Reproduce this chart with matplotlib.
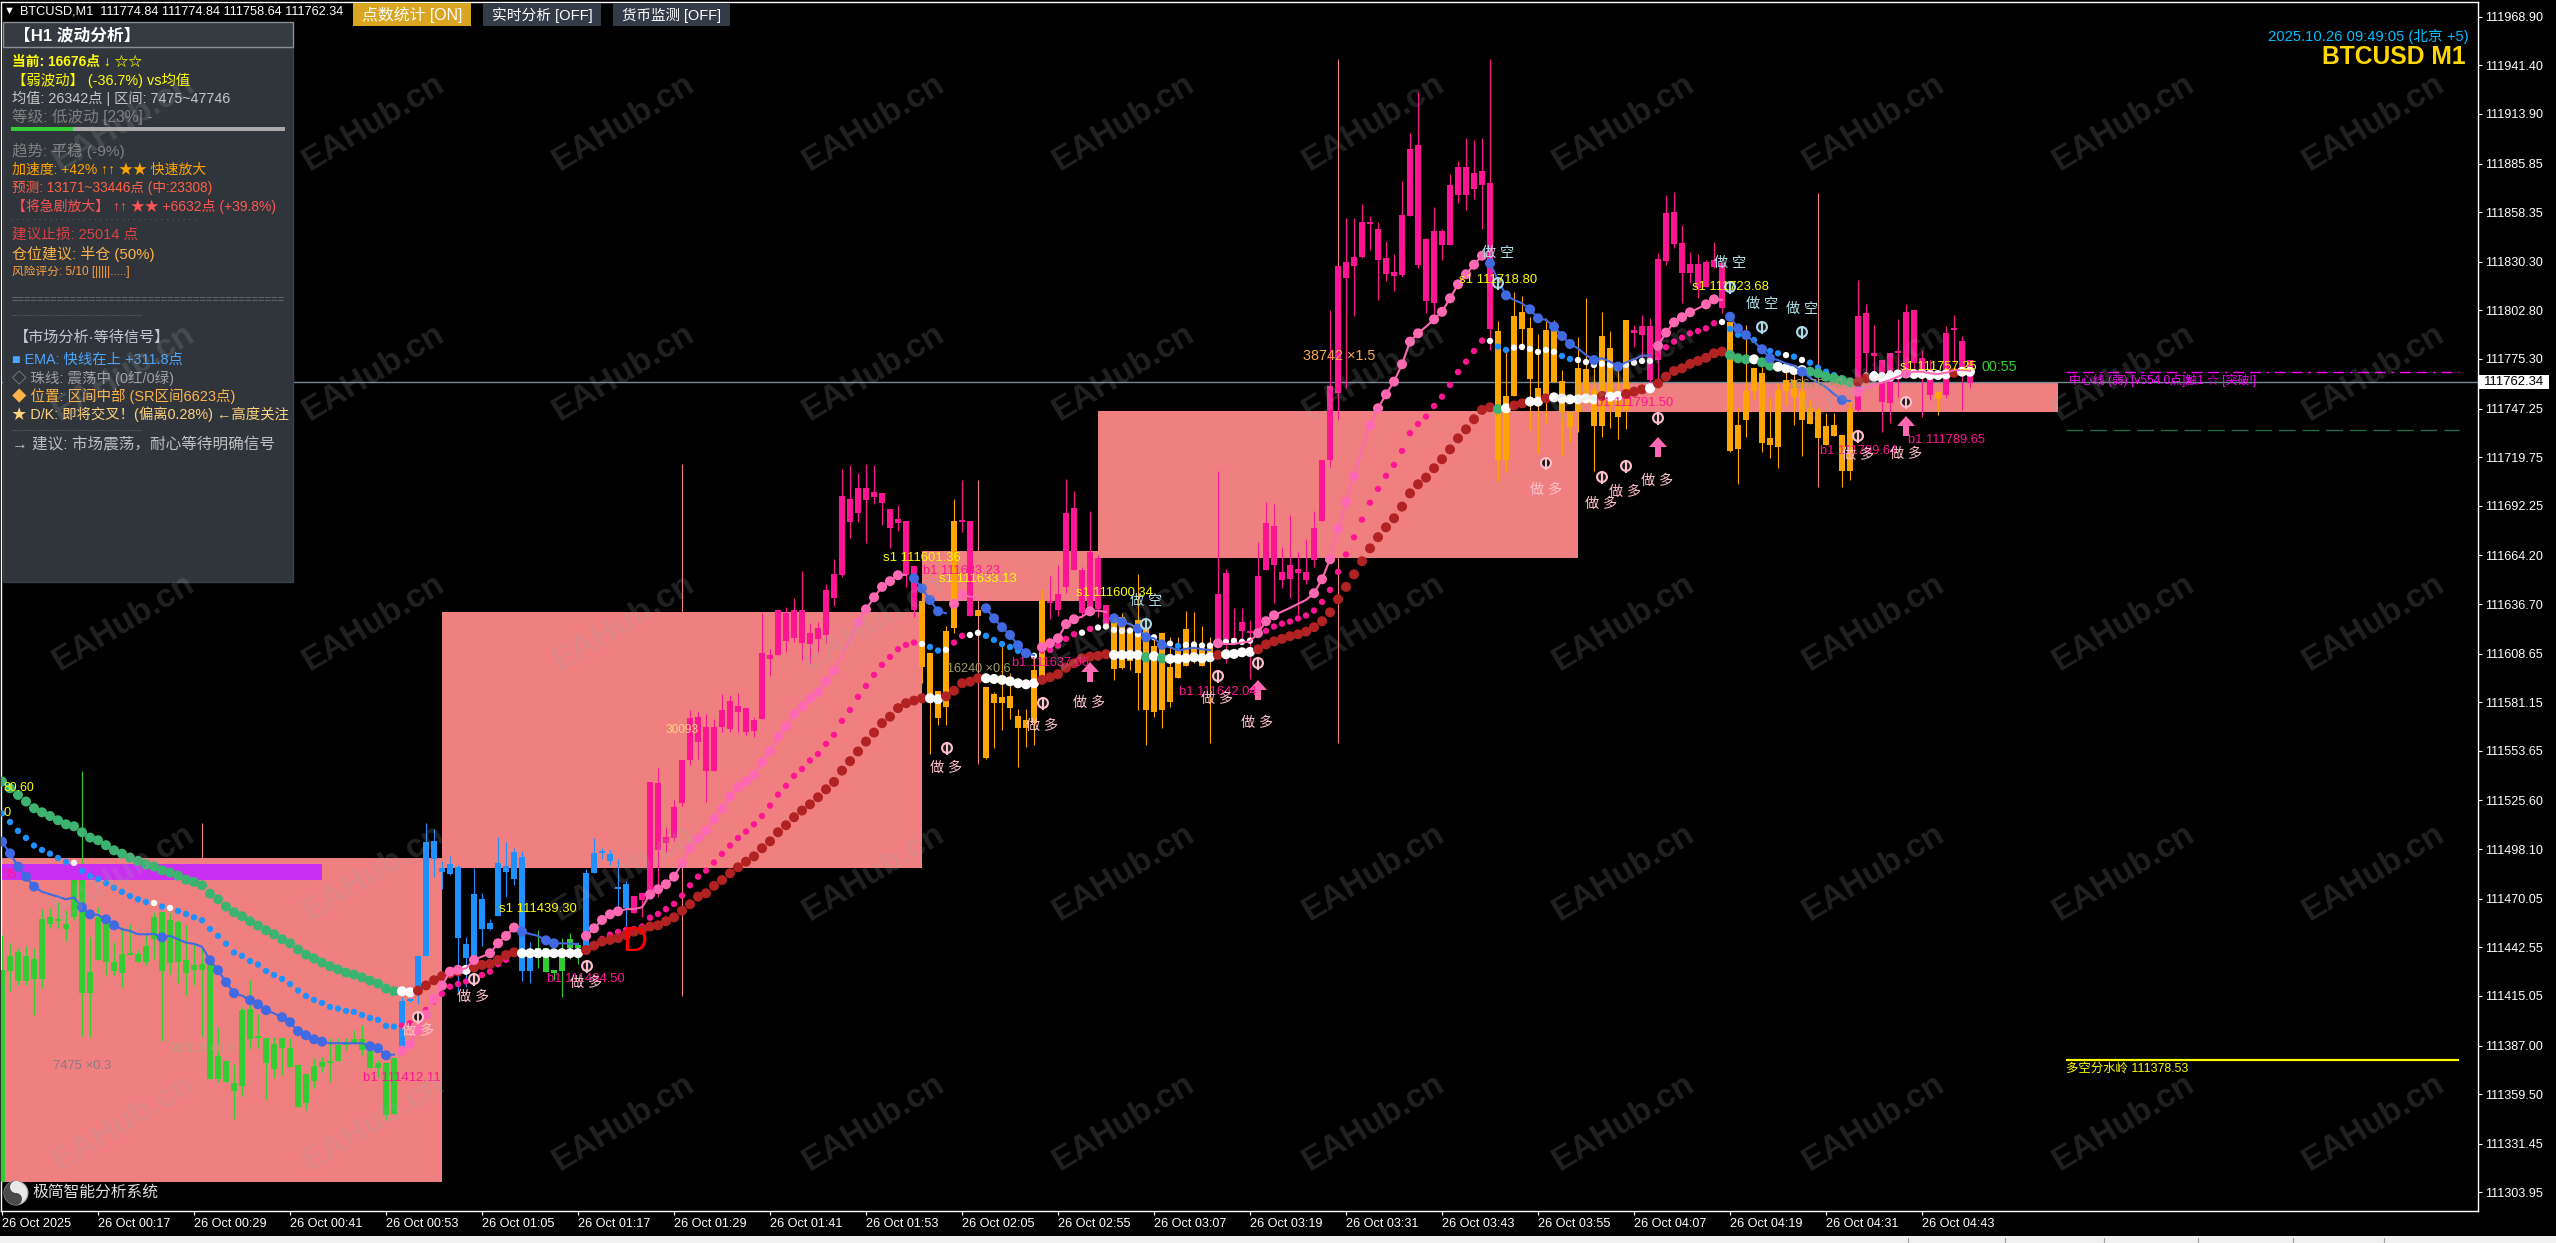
import numpy as np
import matplotlib
matplotlib.use('Agg')
import matplotlib.pyplot as plt
from matplotlib.patches import Rectangle, Circle, Wedge, Polygon

plt.rcParams['font.family'] = ['Liberation Sans', 'Noto Sans CJK SC', 'DejaVu Sans']

W, H = 2556, 1243
PX_PER_BAR = 8
BASE = 111000  # the price lists below hold price minus this

# candles, one value per M1 bar
high = [449.5,444.8,442,443,442,464,464.6,468.4,463.7,489.1,
 542.3,448.2,465.6,459.9,445.8,454.3,455.8,441,449.5,462.7,
 462.5,461.8,458,455,444.8,442.9,435,397.2,378.3,376.4,
 409,424,405,391.3,392,391,391,376,371,379.8,
 380.7,391,391,391,395.8,398.4,388,378.7,376.9,380,
 414.7,414,437.9,512.7,509.3,491.4,494.2,489.1,448.2,487.6,
 473.1,458.4,504.8,502.1,498.9,497,445.4,452.4,442,429.8,
 448,450.9,445.8,486.7,504.2,498.9,497.6,492.3,480.3,471.6,
 473.1,536.1,543.8,510.8,525.9,548.5,576.8,575.9,574.6,571.5,
 585.9,585.3,586.2,578.7,572.7,631.5,611.1,633.4,635.2,640,
 655.4,626.2,626.4,647.9,662,712.9,715.4,710.7,715.9,715.4,
 699.3,690.3,692.7,683.7,658.2,
 648.4,608.9,587.6,624,696,
 706.9,683.7,633.4,590,587,614.5,597.5,577.2,577.2,607,
 645,652.6,658.8,707.3,700.7,657.9,689.4,664.5,636.2,631.5,
 631.5,622,653.5,624,618.3,620.2,618,618,633,632.4,
 624,618.3,712,656.4,634.3,634.3,627.7,671.6,694.2,693.1,
 668.8,687,666.4,673.5,689.4,718.2,803,827.9,854.9,854.9,
 863,856.2,853,842,834.7,876,902.9,926.5,844,861,
 848.6,879.7,887.3,900,899,900,945,796.8,779.5,813.4,
 811,798.9,789.3,798.3,797.4,769,745.5,787.9,809.6,770,
 801.7,791.1,770,797.4,794.5,800,798.3,835.4,868,869.9,
 851,836,834.5,831.3,841.7,829.4,796.4,747.4,794.5,770,
 770.9,753,761.5,768,768,771,752,748,744.6,744.6,
 732.3,752,820,806.4,794.5,774.7,778.5,797.7,806.4,803,
 780.4,774.7,756.8,794.1,800.2,788.3,774.7]
body_top = [429.8,437.7,439.8,437.7,435.8,458.4,459.5,457.7,455.8,481.2,
 481.2,428.4,459.5,458,434.3,438.8,438.8,438.8,443.5,459.5,
 462.5,458,456.7,435.4,432.4,433,432.6,381,378.3,366,
 407,407.5,391.5,391.3,388,391,385.8,376,371,375.5,
 377.6,377.3,387.1,388,390.4,390.4,383.9,377.3,376.9,380,
 412,412.8,437.9,502,502.7,487.4,489.7,487.8,444.5,472.7,
 469.9,456.1,490.1,488.6,496.5,493.5,439.2,442,442,429.8,
 441,447.3,443.5,484.8,495.7,496.1,495.4,476.5,478.4,471.6,
 473.1,536.1,535.3,505.2,521.8,548.5,572,572.7,567,567,
 576.8,581.9,579,577.8,571.2,608.9,607.9,633.4,631.9,633.4,
 633.4,620.2,623,644.7,653.7,697.8,695.9,702.2,702.2,700.1,
 699.3,690.3,684.6,683.7,658.2,
 638.5,608.9,587.6,621.5,683.7,
 683.7,683.7,633.4,590,585.9,584,584.7,573.4,571.2,599.4,
 639,638,642.4,688,690.9,656,666.4,662.9,636.2,626.4,
 629.6,622,627.7,624,613,620.2,600.8,610.7,622.6,613.6,
 611.7,612.6,642.4,654.1,617.3,626.8,621,652.6,682.4,680.9,
 655,658.8,656.5,655,679.7,718.2,760,827.9,830,832.8,
 852.8,852.8,848.8,832.2,824.3,856.7,894,896.3,843.2,847.7,
 847.7,873.7,883.9,883.9,880.3,881.6,874.6,791.1,754.4,799.6,
 801.9,792.6,758.7,791.7,791.7,763,745.5,770,769.5,757.8,
 788.3,781.3,755.9,797.4,791.7,794,794,831.9,857.7,858.2,
 840.7,829,829,830.3,831.3,829.4,796.4,738,757.4,770,
 767.2,730.4,757.8,763.4,763.4,757.4,747.4,746.4,737.4,738,
 732.3,746.8,799.6,801.1,778.5,774.7,778.5,779.8,802,803,
 775.7,769,756.8,789.8,792,785.3,774.7]
body_bot = [310,429.4,423.6,423.4,424.6,424.6,455.8,457.3,453,459.5,
 416.6,416.6,435.4,434.5,428.9,428.2,438.4,434.1,434.5,447.5,
 428.9,433.9,434.5,427.9,429.8,429.8,368,368,366.6,361.3,
 364.3,390.5,391,377.3,373.8,385.6,375,352.3,354.7,367,
 375,376.9,378.3,387.1,387.7,384.7,374,374,347.6,348.3,
 386,412,419.4,437.9,492.5,485.4,483.9,448,436.7,437.3,
 452.9,452.9,460.3,485.2,481.2,429.4,429.4,436.4,428.4,428.2,
 428.9,442,442.4,442,484.8,495.7,491.4,475.4,464.6,462.2,
 469.3,474,497.6,501.8,504.2,524,548.5,558.9,542,542.5,
 567,566,575.9,564.6,565.1,571.7,605.7,607.9,615.8,617.3,
 614.9,614.1,617,619.2,640.3,653.2,683.3,688.4,695.6,697.5,
 694.1,679.9,682.8,653.2,633.4,
 601,584.4,572.1,578.7,623,
 683.3,630.2,630.2,549.5,581,581,577.8,566.8,566.3,569.3,
 596,637,633.4,646.6,656,631.9,633.7,633.9,624.9,600,
 600.4,604.7,597.9,576.8,575.7,576.8,581.1,595.1,601.7,607.9,
 601.7,608.9,615.5,615.5,614.5,621.7,620.5,619.2,656,658.8,
 650.3,650.9,654.1,650.3,661.6,683.7,718.2,756.3,821.3,828.1,
 832.8,851.8,831.3,823.4,822.2,822.8,856.2,828.5,808.1,806.8,
 839.8,839.8,868,868,871.4,873.7,792.3,718.2,718.2,754.4,
 792.5,764,754,755,762,745.5,737,745.5,750.2,737.4,
 737.4,749.3,742.7,746.5,789.8,788.9,763.4,774.7,830.7,840.3,
 824.1,824.1,815.3,816.2,827.5,804,723.5,724.4,740.8,757.4,
 728,726.7,725.7,757.4,754,740.8,738.5,730.8,726.6,732,
 712.1,712.1,746.4,778.9,777,751.2,750.2,778.5,765.3,772.8,
 767.2,754.9,752.5,754.9,791.6,771,761.9]
low = [310,418,421.3,421.3,404.3,419.4,453.3,453.3,446.3,458,
 392.6,391.7,435.4,426.6,427,420.3,438.2,434.1,432.6,435.8,
 389.8,427.5,422.2,415.8,421.3,392,368,366.6,366.6,345.3,
 358.2,385.3,385.6,357,368.7,370.4,375,352.3,350.8,363.2,
 371.9,366.6,378.3,384.4,387.7,381.5,374,369.2,344.8,348.3,
 386,411.6,410.5,437.9,482.5,475.6,483.5,417.5,420.3,432.6,
 443.5,452.4,460.3,471.2,477.8,423.5,422.6,430.7,428.4,424,
 414.7,435.8,433,441,484.4,492.3,489.1,465.6,453.3,462.2,
 459.9,471,471.2,496.7,502.4,522.2,545.7,549.1,525,542.5,
 564.6,564.6,564.6,562.7,561.7,571.7,596,607.9,609.8,615.5,
 605.1,603.6,609.8,614.9,635.8,652.2,674.3,683.3,671,693.1,
 681.4,668.2,678.2,646.6,629.6,
 591.9,551.9,568.3,568.3,620.5,
 677.7,630.2,630.2,548.9,555.5,565.5,571.5,544.8,556.1,557,
 596,628.3,630.2,643.2,656,628.7,630.5,629.6,624,593.8,
 600,599.4,576.8,557,573,566.4,578.7,595.1,601.7,603.2,
 601.7,558,615,603.2,614,614.5,594.5,618.3,656,637.1,
 645.6,640.3,630.5,648,657.9,683.7,714.4,740.8,759,799.6,
 832.2,837,808.7,819.6,814,821.9,856.2,827,801.5,800.2,
 831.3,839.8,863.3,859.6,865.8,848.8,780.4,706.5,711.6,754.4,
 783.8,735.2,722,739.3,762,720.6,728.6,734.2,750.2,712.2,
 731.4,736.1,730,735.5,782,775.7,761.5,762.5,828.5,837.9,
 806.8,818,809.6,816.2,827,801.1,722.9,704.6,731.4,752.7,
 722.9,719.5,713.9,749.3,738,720.4,738.5,730,726.6,732,
 703.1,706.9,745.5,765.3,765,734.2,739.3,754,765.3,766.2,
 742.3,752,743.6,753,772.8,746.5,758.7]
candle_runs = [('g',50),('b',17),('g',6),('b',6),('p',36),('o',5),('p',2),('o',9),('p',8),
               ('o',13),('p',35),('o',17),('p',12),('o',16),('p',10),('o',1),('p',4)]

# dotted averages
slow_line = [536.3,532.5,528.7,525,521.2,518.9,516.8,514.4,512.1,511,
 507.6,504.6,503.1,500.3,497.4,495.5,493.3,491.4,489.5,488.2,
 486.1,484.8,483.1,480.8,479.5,477.6,472.9,469.7,465.6,462.4,
 460.1,457.3,454.8,452.2,449.9,447.1,444.8,441.3,438.4,436.2,
 433.9,431.8,430.1,428.2,427.1,425.6,423.7,422,419.2,417.7,
 417.7,417.1,418,421,423.9,426.2,427.7,428.8,429.8,431.1,
 432.6,433.1,435.4,438.2,439.7,439.2,439.2,439.2,439.2,439.2,
 439.2,439.2,439.2,441,443.5,445.8,446.7,447.7,449.5,451.4,
 452.4,454.3,455,457.3,459.5,463.3,466.9,471.2,473.1,477.3,
 480.6,484.4,487.8,491,494,498.6,502.5,507.6,511.6,516.1,
 519.9,523.4,527.4,531.9,536.1,542.5,547.8,553.3,558.9,564,
 569.3,573,577.8,580.6,582.1,583.4,583.4,582.9,584.5,587.7,
 591.9,592.8,594.7,594.7,594.3,593.8,593,591.9,591.3,591.9,
 593.8,595.3,597,600.6,603.2,606,607,607.4,608.3,607.9,
 607.9,607.9,607.9,606.6,607.2,606,605.7,605.7,606,606.6,
 606,606.6,607.9,608.3,608.5,609.4,609.6,611.1,613.9,615.6,
 617,618.5,619.6,621.1,623.6,627,632,639.4,646.4,653.5,
 660.9,668.2,674.5,680.1,685.2,691.8,699.3,704.4,708.2,713.5,
 718.6,724.2,730.4,735.5,741.2,746.5,748,747,747.4,749,
 750.2,751.2,751.2,753,753.6,752.9,752.5,752.5,753,752.5,
 754.4,754,754.4,755.5,756.8,758.1,758.7,761.5,765.3,768.5,
 770,772.5,774.2,776,778.5,779.5,777.6,775.7,775.1,775.1,
 773.4,771.5,770.9,770,769,769,768.1,767.2,765.3,764.4,
 763.4,762.1,762.5,764.4,765.3,764.7,765.3,766.6,767.2,766.8,
 766.8,766.2,766.2,766.6,767.5,768.1,768.1]
slow_runs = [('g',50),('w',2),('r',6),('w',1),('r',6),('w',8),('r',43),('w',2),('r',5),('w',7),
             ('r',9),('w',4),('g',1),('w',1),('g',1),('w',6),('r',1),('w',4),('r',30),('g',1),
             ('w',1),('r',2),('w',2),('r',1),('w',6),('r',1),('w',2),('r',3),('w',1),('r',9),
             ('g',3),('w',1),('g',2),('w',4),('g',6),('r',2),('w',10),('r',1),('w',2)]

nan = float('nan')
mid_line = [518.3,513.4,508.4,504.4,500.1,497.6,495.5,493.1,490.8,490.3,
 485.7,482.9,481.2,478.9,476.3,473.9,471.6,469.7,468.2,467.6,
 465.6,464.8,463.1,461.4,459.5,457.8,452.9,449,444.6,439.6,
 437.7,434.8,432.8,429.2,426.9,424.7,421.8,418.1,415,412.8,
 411.1,408.8,407.9,406.6,406,404.3,402.6,401.5,398.1,397.7,
 398.3,399.6,401.9,407.1,411.9,416.2,420.3,421.8,423.2,425,
 426.9,428.8,433,435.4,439.2,nan,nan,nan,nan,nan,
 nan,nan,nan,nan,443.9,447.3,449.7,451.2,452.4,452.9,
 454.3,459.3,461.4,464.1,467.1,471.8,477.6,482.5,485.9,490.5,
 495.4,500.1,504.4,508,512.1,516.8,522.7,528.9,533.9,539.5,
 543.4,548.2,551.9,557.6,562.7,570.6,576.8,584.2,590.4,596.6,
 602.3,606.8,611.1,613.6,614.9,614.1,612.4,610.4,610.8,614.9,
 618.7,619.2,620.4,618.7,616.4,614.1,612.4,610.2,608.9,607.4,
 610.4,610.8,613.2,617,619.6,620.5,622.6,623.4,624,622,
 621.5,621.7,619.6,618.3,617.9,614.9,614.3,613,613.6,613.8,
 613.2,613.2,614.5,615.3,615.8,615.3,616,620.2,621.5,624,
 625.6,626.8,628.5,630.2,633,637.9,644.7,654.9,664.7,674.4,
 684.4,694,701.8,709.2,715.4,723.3,733.3,738.5,742.7,748.7,
 754,760.6,767.9,773.8,779.8,785.7,785.5,782.3,780.4,781.7,
 782.1,781,779.3,780.4,779.3,777,775.3,774.7,773.6,771.9,
 772.5,771.9,771,771.9,773.2,774.2,774.2,777.6,781.9,785.1,
 787.4,789.8,791.1,792.6,795.5,796.2,792.3,789,789.4,786,
 781.3,779.8,778.5,777.5,776.6,774.7,773.2,770.4,768.1,766.2,
 763.4,762.8,760,765.9,766.8,766.2,767.2,767.2,nan,nan,
 nan,nan,nan,nan,nan,nan,nan]
mid_runs = [('b',9),('w',1),('b',9),('w',1),('b',1),('w',1),('b',28),('p',65),('w',1),('b',2),
            ('w',1),('p',2),('w',2),('b',6),('w',1),('p',5),('w',1),('p',1),('w',6),('b',1),
            ('w',1),('b',1),('w',1),('b',1),('w',9),('p',29),('w',1),('b',2),('w',6),('b',2),
            ('w',10),('p',8),('w',1),('b',7),('w',1),('b',1),('w',1),('b',7),('w',14)]

fast_line = [502.3,495.7,488.2,482.5,476.9,474,472.5,471.2,469.7,470.7,
 465.2,461.2,460.9,458.4,455,452.8,451.8,449.9,449.9,450.1,
 448.2,449,447.1,445.2,444.5,442.9,435.2,429.6,422.8,416.6,
 415.2,412.6,410.3,407,405.2,403,400.2,395.1,392.8,390.5,
 389.2,388.3,388.3,388.3,388.3,388.3,386.6,385.5,381.5,381.9,
 384.1,387.7,395.8,404.3,413.4,420.9,428.8,429.8,430.7,435.4,
 437.3,439.2,444.8,449,453.7,451.4,450.1,449,446.5,444.8,
 444.8,444.6,444.4,449,453.3,458,461.2,462.9,464.1,464.2,
 465.2,472.4,475.4,478.2,482.5,490.1,498.6,504.2,508.5,515,
 521,527.8,533.2,536.5,540,547.2,553.3,561.7,567.4,574.4,
 578.7,583.4,586.8,592.8,599,607.4,616.8,626.2,633.7,640.5,
 646.4,649.6,653,653.2,651.3,645.6,639,632.6,631.5,636.8,
 641.8,640.9,640,634.3,628.6,623.6,619.2,613.4,608.9,607.9,
 612.3,614.5,617.3,625.3,628.1,629.6,632.6,633,632.2,628.6,
 626.4,625.4,622.8,617.9,617.3,613.6,612.3,610.4,611.3,612,
 611.1,610.7,614.5,614.1,614.1,614.9,615.6,620.2,627,630.3,
 632.4,634.5,636.8,639,642.8,650.7,662,679.5,694.4,709,
 724,737.6,747.4,755.3,762.5,772.3,785.1,789.8,793.6,797.7,
 802,809.6,817.5,823.2,828.6,833.7,829.4,820,811.3,808.7,
 806.8,803.4,798.3,797.4,793.6,788.3,783.8,781.3,777.6,774.7,
 775.7,773.8,771,773.4,775.1,777.2,777.2,782.7,790.2,796,
 798.9,801.7,803.9,806.2,809,808.7,799.2,792.6,788.9,785.1,
 780.8,775.7,774.7,772.8,771.5,768.1,764.7,762.1,759.3,755.5,
 752.1,751.5,756.8,758.7,760.6,761.9,763.4,765.3,767.2,768.1,
 768.1,767.2,766.8,767.5,769,769,768.7]
fast_runs = [('b',50),('p',15),('b',8),('p',41),('b',5),('p',4),('b',7),('p',9),('b',13),
             ('p',34),('b',21),('p',9),('b',16),('p',15)]
fast_dots = [0,1,2,3,4,10,11,13,14,20,26,27,28,29,31,32,33,35,36,37,38,39,40,46,47,48,
             50,51,52,53,54,55,56,57,59,61,62,63,64,65,68,69,73,74,75,76,77,
             81,82,83,84,85,86,87,88,89,90,91,92,93,94,95,96,97,98,99,100,101,102,103,104,
             107,108,109,110,111,112,114,115,116,117,119,120,123,124,125,126,127,128,
             130,131,132,133,134,136,139,140,142,143,145,152,157,158,159,164,165,166,167,168,169,
             171,172,173,174,175,176,177,179,180,181,182,183,184,185,186,188,191,192,194,195,196,
             199,202,207,208,209,210,211,213,214,216,217,218,220,221,225,230,232,238]

# H1 candle bodies drawn as zones, and their wicks
zone_left = [0, 55, 115, 137, 197]
zone_right = [55, 115, 137, 197, 257]
zone_top = [493.0, 632.2, 666.7, 745.9, 761.7]
zone_bottom = [309.8, 487.4, 638.4, 662.7, 745.3]
h1_wick_bar = [25, 85, 122, 167, 227]
h1_wick_high = [512.9, 716, 707, 945, 869]
h1_wick_low = [493, 415, 546, 558, 703]

# horizontal levels
bid_price = 762.34
centre_level = 767.9
lower_level = 735.1
divide_level = 378.53

price_ticks = [111968.90,111941.40,111913.90,111885.85,111858.35,111830.30,111802.80,111775.30,
               111747.25,111719.75,111692.25,111664.20,111636.70,111608.65,111581.15,111553.65,
               111525.60,111498.10,111470.05,111442.55,111415.05,111387.00,111359.50,111331.45,111303.95]
time_labels = ['26 Oct 2025','26 Oct 00:17','26 Oct 00:29','26 Oct 00:41','26 Oct 00:53','26 Oct 01:05',
               '26 Oct 01:17','26 Oct 01:29','26 Oct 01:41','26 Oct 01:53','26 Oct 02:05','26 Oct 02:55',
               '26 Oct 03:07','26 Oct 03:19','26 Oct 03:31','26 Oct 03:43','26 Oct 03:55','26 Oct 04:07',
               '26 Oct 04:19','26 Oct 04:31','26 Oct 04:43']

CANDLE = {'g': '#32CD32', 'b': '#1E90FF', 'p': '#FF1493', 'o': '#FFA500'}
SLOW = {'g': '#3CB371', 'w': '#FFFFFF', 'r': '#B22222'}
MID = {'b': '#1E90FF', 'w': '#FFFFFF', 'p': '#FF1493'}
FAST = {'b': '#4169E1', 'p': '#FF69B4'}


def expand(runs, table):
    out = []
    for key, n in runs:
        out += [table[key]] * n
    return out


def to_price(values):
    return np.array(values, dtype=float) + BASE


bars = np.arange(len(high))
fig = plt.figure(figsize=(W / 100, H / 100), dpi=100, facecolor='black')
ax = fig.add_axes([1 / W, 1 - 1211 / H, 2477 / W, 1209 / H], facecolor='black')
ax.set_xlim(-0.125, 309.5)
ax.set_ylim(111293.4, 111977.2)

for s in ax.spines.values():
    s.set_color('white')
    s.set_linewidth(1.0)

ax.yaxis.tick_right()
ax.set_yticks(price_ticks)
ax.set_yticklabels(['%.2f' % p for p in price_ticks])
ax.set_xticks(np.arange(0, 12 * len(time_labels), 12))
ax.set_xticklabels(time_labels, ha='left')
ax.tick_params(colors='white', labelsize=9.1, length=3, width=0.8, pad=2)

# zones and H1 wicks
for l, r, t, b in zip(zone_left, zone_right, zone_top, zone_bottom):
    ax.add_patch(Rectangle((l, b + BASE), r - l, t - b, fc='#F08080', ec='none', zorder=1, antialiased=False))
ax.vlines(h1_wick_bar, to_price(h1_wick_low), to_price(h1_wick_high), color='#F08080', lw=0.8, zorder=2)
ax.add_patch(Rectangle((0, 480.6 + BASE), 40, 9.1, fc='#C82FF0', ec='none', zorder=4, antialiased=False))

# candles
cols = expand(candle_runs, CANDLE)
ax.vlines(bars, to_price(low), to_price(high), colors=cols, lw=0.8, zorder=3)
heights = np.maximum(np.array(body_top) - np.array(body_bot), 1.2)
ax.bar(bars, heights, bottom=to_price(body_bot), width=0.66, color=cols, linewidth=0, zorder=3, antialiased=False)

# dotted averages
ax.scatter(bars, to_price(mid_line), s=21, c=expand(mid_runs, MID), linewidths=0, zorder=5)
ax.scatter(bars, to_price(slow_line), s=52, c=expand(slow_runs, SLOW), linewidths=0, zorder=6)
fast_cols = expand(fast_runs, FAST)
fast_prices = to_price(fast_line)
start = 0
for key, n in fast_runs:
    ax.plot(bars[start:start + n], fast_prices[start:start + n], color=FAST[key], lw=1.5, zorder=7)
    start += n
ax.scatter(bars[fast_dots], fast_prices[fast_dots], s=52, c=[fast_cols[i] for i in fast_dots], linewidths=0, zorder=7)

# levels on the right
ax.axhline(bid_price + BASE, color='#778899', lw=1.0, zorder=2.5)
ax.hlines(centre_level + BASE, 258, 307.1, color='#FF00FF', lw=1.0, linestyles=(0, (8, 4, 8, 4, 2, 4)), zorder=2)
ax.hlines(lower_level + BASE, 258, 307.1, color='#1F6B46', lw=1.0, linestyles=(0, (12, 5)), zorder=2)
ax.hlines(divide_level + BASE, 258, 307.1, color='#FFFF00', lw=1.6, zorder=2)

# overlay in picture pixels for chart objects and panels
ov = fig.add_axes([0, 0, 1, 1], zorder=10)
ov.set_xlim(0, W)
ov.set_ylim(H, 0)
ov.axis('off')
ov.patch.set_alpha(0)
rend = fig.canvas.get_renderer()


def lab(x, y, s, color, size=9.3, right=None, **kw):
    t = ov.text(x, y, s, color=color, fontsize=size, va='center', ha=kw.pop('ha', 'left'), **kw)
    if right is not None:
        t.set_fontsize(size * (right - x) / t.get_window_extent(rend).width)
    return t


def box(x0, y0, x1, y1, fc, ec='none', lw=0):
    ov.add_patch(Rectangle((x0, y0), x1 - x0, y1 - y0, fc=fc, ec=ec, lw=lw))


def sig_mark(x, y, up=True):
    c = '#FFC0CB' if up else '#ADD8E6'
    ov.add_patch(Circle((x, y), 6, fc=c, ec='none'))
    ov.add_patch(Circle((x, y), 3.9, fc='#1A1A1A', ec='none'))
    ov.plot([x, x], [y - 5, y + 6], color=c, lw=1.5)


def big_arrow(x, y):
    pts = [(x, y - 10), (x + 9, y), (x + 3, y), (x + 3, y + 10), (x - 3, y + 10), (x - 3, y), (x - 9, y)]
    ov.add_patch(Polygon(pts, closed=True, fc='#FF69B4', ec='none'))


YELLOW = '#FFFF00'
PINK = '#FF1493'
for x, y, r, s in [(499, 909, 577, 's1 111439.30'), (883, 558, 961, 's1 111601.36'),
                   (939, 579, 1017, 's1 111633.13'), (1076, 593, 1153, 's1 111600.34'),
                   (1459, 280, 1537, 's1 111718.80'), (1692, 287, 1769, 's1 111723.68'),
                   (1900, 367, 1977, 's1 111757.25')]:
    lab(x, y, s, YELLOW, right=r)
for x, y, r, s in [(363, 1078, 441, 'b1 111412.11'), (547, 979, 625, 'b1 111484.50'),
                   (923, 571, 1000, 'b1 111633.23'), (1012, 663, 1089, 'b1 111637.06'),
                   (1179, 692, 1257, 'b1 111642.04'), (1596, 403, 1673, 'b1 111791.50'),
                   (1820, 451, 1897, 'b1 111799.64'), (1908, 440, 1985, 'b1 111789.65')]:
    lab(x, y, s, PINK, right=r)
for x, y in [(418, 1031), (473, 997), (586, 983), (946, 768), (1042, 726), (1089, 703), (1217, 699),
             (1257, 723), (1546, 490), (1601, 504), (1625, 492), (1657, 481), (1858, 455), (1906, 454)]:
    lab(x, y, '做 多', '#FFC0CB', size=10.2, ha='center')
for x, y in [(1146, 601), (1498, 253), (1730, 263), (1762, 304), (1802, 309)]:
    lab(x, y, '做 空', '#B0E0E6', size=10.2, ha='center')
for x, y in [(418, 1017), (474, 979), (587, 966), (947, 748), (1043, 703), (1218, 676), (1258, 663),
             (1546, 463), (1602, 477), (1626, 466), (1658, 418), (1858, 436), (1906, 402)]:
    sig_mark(x, y, True)
for x, y in [(1146, 624), (1498, 283), (1730, 287), (1762, 327), (1802, 332)]:
    sig_mark(x, y, False)
for x, y in [(1090, 672), (1258, 690), (1658, 447), (1906, 426)]:
    big_arrow(x, y)

lab(3, 788, '80.60', YELLOW, right=34)
lab(4, 813, '0', YELLOW)
lab(3, 875, '35', PINK)
lab(53, 1066, '7475 ×0.3', '#8A7A80', right=111)
lab(170, 1049, '20313 ×0.8', '#B9A27C', right=235)
lab(666, 730, '30093', '#FFD27F', right=699)
lab(947, 669, '16240 ×0.6', '#9EA06B', right=1011)
lab(1303, 356, '38742 ×1.5', '#FFA94D', right=1375)
lab(1788, 385, '16676 ×0.6', '#A89A6A', right=1853)
lab(1982, 367, '00:55', '#32CD32', right=2018)
lab(622, 941, 'D', '#FF0000', size=25)

# top right
lab(2268, 36, '2025.10.26 09:49:05 (北京 +5)', '#00BFFF', right=2467)
lab(2322, 57, 'BTCUSD M1', '#FFD700', right=2465, fontweight='bold')
box(2479, 375, 2549, 389, 'white')
lab(2484, 382, '111762.34', 'black', right=2544)
lab(2069, 380, '中心线 (弱) [v554.0点]触1 ☆ [突破!]', '#FF00FF', right=2256)
lab(2066, 1069, '多空分水岭 111378.53', YELLOW, right=2188)

# header row
lab(4, 11, '▼', 'white', size=8)
lab(20, 11, 'BTCUSD,M1  111774.84 111774.84 111758.64 111762.34', 'white', right=345)
for x0, x1, fc, s in [(353, 471, '#DAA520', '点数统计 [ON]'), (483, 601, '#333B47', '实时分析 [OFF]'),
                      (613, 730, '#333B47', '货币监测 [OFF]')]:
    box(x0, 3, x1, 26, fc)
    lab(x0 + 9, 15, s, 'white', right=x1 - 9)

# left panel
box(3, 47, 293, 582, '#2F353B', ec='#3A4046', lw=1)
box(3, 22, 293, 47, '#343A40', ec='#8A8F94', lw=1)
lab(14, 36, '【H1 波动分析】', 'white', right=140, fontweight='bold')
panel_lines = [
    (11.5, 62, 141, '当前: 16676点 ↓ ☆☆', '#FFFF00', 'bold'),
    (11.5, 80, 190, '【弱波动】 (-36.7%) vs均值', '#FFFF00', 'normal'),
    (11.5, 98, 229, '均值: 26342点 | 区间: 7475~47746', '#C8C8C8', 'normal'),
    (11.5, 117, 152, '等级: 低波动 [23%] -', '#808080', 'normal'),
    (11.5, 151, 124, '趋势: 平稳 (-9%)', '#808080', 'normal'),
    (11.5, 170, 206, '加速度: +42% ↑↑ ★★ 快速放大', '#FFA500', 'normal'),
    (11.5, 188, 212, '预测: 13171~33446点 (中:23308)', '#FF6347', 'normal'),
    (11.5, 206, 274, '【将急剧放大】 ↑↑ ★★ +6632点 (+39.8%)', '#FF5555', 'normal'),
    (11.5, 235, 137, '建议止损: 25014 点', '#DC4444', 'normal'),
    (11.5, 254, 154, '仓位建议: 半仓 (50%)', '#FFB347', 'normal'),
    (11.5, 272, 128, '风险评分: 5/10 [|||||.....]', '#FFA040', 'normal'),
    (11.5, 300, 283, '=' * 42, '#6E747A', 'normal'),
    (11.5, 315, 147, '-' * 42, '#565C62', 'normal'),
    (14, 338, 170, '【市场分析·等待信号】', '#C0C8D0', 'normal'),
    (11.5, 360, 182, '■ EMA: 快线在上 +311.8点', '#4DA6FF', 'normal'),
    (11.5, 378, 173, '◇ 珠线: 震荡中 (0红/0绿)', '#A0A0A0', 'normal'),
    (11.5, 396, 234, '◆ 位置: 区间中部 (SR区间6623点)', '#FFB347', 'normal'),
    (11.5, 414, 289, '★ D/K: 即将交叉！(偏离0.28%) ←高度关注', '#FFD280', 'normal'),
    (11.5, 431, 146, '-' * 42, '#565C62', 'normal'),
    (11.5, 445, 274, '→ 建议: 市场震荡，耐心等待明确信号', '#C0C0C0', 'normal'),
]
for x, y, r, s, c, w in panel_lines:
    lab(x, y, s, c, right=r, fontweight=w)
box(11, 127, 285, 131, '#AAAAAA')
box(11, 127, 73, 131, '#32CD32')
ov.plot([11, 200], [219, 219], color='#565C62', lw=0.8, linestyle=(0, (1, 4)))

# logo
ov.add_patch(Circle((16, 1193), 12, fc='#E8E8E8', ec='#999999', lw=0.8))
ov.add_patch(Wedge((16, 1193), 12, 90, 270, fc='#4A4A4A', ec='none'))
ov.add_patch(Circle((16, 1187), 6, fc='#E8E8E8', ec='none'))
ov.add_patch(Circle((16, 1199), 6, fc='#4A4A4A', ec='none'))
lab(32, 1192, '极简智能分析系统', '#DDDDDD', right=158)

# status strip at the bottom
box(0, 1236, W, H, '#F0F0F0')
for x in [1908, 2005, 2104, 2198, 2293, 2384]:
    ov.plot([x, x], [1238, 1243], color='#A0A0A0', lw=0.8)

# watermark on top of everything
for gx in range(124, 2500, 250):
    for gy in range(123, 1200, 250):
        ov.text(gx, gy, 'EAHub.cn', color=(0.65, 0.65, 0.65), alpha=0.2, fontsize=24, fontweight='bold',
                rotation=31, ha='center', va='center', rotation_mode='anchor')

fig.savefig('out.png', dpi=100, facecolor='black')
